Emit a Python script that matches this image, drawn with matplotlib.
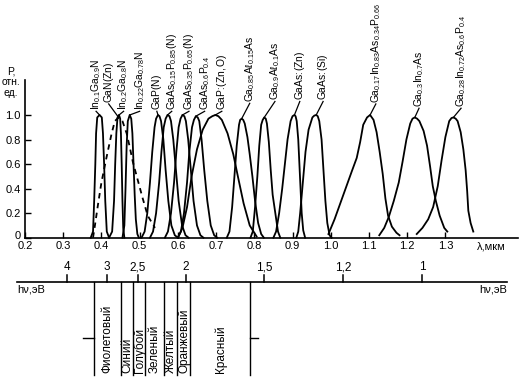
import matplotlib.pyplot as plt
from matplotlib.transforms import ScaledTranslation

plt.rcParams['font.family'] = ['Liberation Sans', 'DejaVu Sans']
plt.rcParams['mathtext.fontset'] = 'custom'
plt.rcParams['mathtext.rm'] = 'Liberation Sans'
plt.rcParams['mathtext.it'] = 'Liberation Sans:italic'
plt.rcParams['mathtext.bf'] = 'Liberation Sans:bold'

# ---- emission spectra: wavelength (um), relative power ----
wl_in01 = [0.372, 0.378, 0.381, 0.384, 0.386, 0.389, 0.395, 0.401, 0.404, 0.407, 0.410, 0.414, 0.420]
p_in01 = [0, 0.05, 0.3, 0.6, 0.85, 0.98, 1.0, 0.98, 0.85, 0.6, 0.3, 0.05, 0]

wl_ganzn = [0.378, 0.382, 0.391, 0.400, 0.413, 0.426, 0.435, 0.445, 0.455, 0.466, 0.474, 0.482, 0.495, 0.508, 0.521, 0.540]
p_ganzn = [0, 0.08, 0.27, 0.45, 0.65, 0.84, 0.95, 0.98, 0.95, 0.85, 0.74, 0.62, 0.47, 0.32, 0.18, 0.08]

wl_in02 = [0.420, 0.428, 0.433, 0.436, 0.439, 0.442, 0.446, 0.449, 0.451, 0.453, 0.455, 0.457, 0.460]
p_in02 = [0, 0.05, 0.3, 0.6, 0.85, 0.98, 1.0, 0.97, 0.85, 0.6, 0.3, 0.08, 0]

wl_in022 = [0.455, 0.460, 0.463, 0.466, 0.469, 0.474, 0.478, 0.481, 0.484, 0.487, 0.490, 0.494, 0.498]
p_in022 = [0, 0.1, 0.4, 0.75, 0.95, 1.0, 0.97, 0.85, 0.6, 0.35, 0.15, 0.03, 0]

wl_gapn = [0.505, 0.513, 0.520, 0.527, 0.533, 0.539, 0.543, 0.548, 0.552, 0.556, 0.562, 0.568, 0.575, 0.583, 0.592, 0.600]
p_gapn = [0, 0.05, 0.2, 0.45, 0.7, 0.9, 0.97, 1.0, 0.99, 0.95, 0.8, 0.55, 0.3, 0.1, 0.02, 0]

wl_as015 = [0.527, 0.535, 0.543, 0.551, 0.557, 0.563, 0.568, 0.573, 0.578, 0.582, 0.588, 0.595, 0.602, 0.611, 0.620, 0.628]
p_as015 = [0, 0.05, 0.2, 0.45, 0.7, 0.9, 0.97, 1.0, 0.99, 0.95, 0.8, 0.55, 0.3, 0.1, 0.02, 0]

wl_as035 = [0.566, 0.574, 0.582, 0.590, 0.596, 0.602, 0.607, 0.612, 0.617, 0.621, 0.627, 0.634, 0.641, 0.650, 0.659, 0.667]
p_as035 = [0, 0.05, 0.2, 0.45, 0.7, 0.9, 0.97, 1.0, 0.99, 0.95, 0.8, 0.55, 0.3, 0.1, 0.02, 0]

wl_as06 = [0.600, 0.608, 0.616, 0.624, 0.630, 0.637, 0.642, 0.647, 0.652, 0.656, 0.662, 0.669, 0.677, 0.686, 0.695, 0.703]
p_as06 = [0, 0.05, 0.2, 0.45, 0.7, 0.9, 0.96, 0.99, 0.98, 0.95, 0.8, 0.55, 0.3, 0.1, 0.02, 0]

wl_gapzno = [0.600, 0.612, 0.624, 0.636, 0.650, 0.665, 0.680, 0.690, 0.698, 0.706, 0.715, 0.730, 0.745, 0.757,
             0.772, 0.788, 0.806]
p_gapzno = [0, 0.08, 0.25, 0.5, 0.72, 0.88, 0.97, 0.99, 1.0, 0.99, 0.96, 0.85, 0.68, 0.5,
            0.28, 0.1, 0.01]

wl_al015 = [0.728, 0.735, 0.742, 0.748, 0.754, 0.760, 0.763, 0.767, 0.771, 0.775, 0.782, 0.788, 0.795, 0.802,
            0.810, 0.818, 0.825]
p_al015 = [0, 0.05, 0.25, 0.5, 0.75, 0.92, 0.96, 0.97, 0.96, 0.93, 0.82, 0.68, 0.5, 0.3,
           0.12, 0.03, 0]

wl_al01 = [0.790, 0.796, 0.802, 0.808, 0.813, 0.818, 0.822, 0.826, 0.830, 0.833, 0.838, 0.843, 0.848, 0.855,
           0.862, 0.868]
p_al01 = [0, 0.05, 0.25, 0.5, 0.75, 0.92, 0.96, 0.98, 0.97, 0.93, 0.78, 0.55, 0.35, 0.2,
          0.05, 0]

wl_gaaszn = [0.850, 0.857, 0.865, 0.873, 0.880, 0.887, 0.895, 0.900, 0.905, 0.908, 0.911, 0.915, 0.918, 0.921,
             0.924, 0.928, 0.933]
p_gaaszn = [0, 0.05, 0.2, 0.4, 0.6, 0.8, 0.95, 0.99, 1.0, 0.99, 0.95, 0.8, 0.6, 0.4,
            0.2, 0.06, 0]

wl_gaassi = [0.910, 0.915, 0.920, 0.927, 0.934, 0.942, 0.952, 0.957, 0.962, 0.966, 0.970, 0.976, 0.981, 0.986,
             0.991, 0.997, 1.002]
p_gaassi = [0, 0.05, 0.2, 0.45, 0.7, 0.88, 0.98, 0.995, 1.0, 0.99, 0.95, 0.8, 0.55, 0.3,
            0.12, 0.02, 0]

wl_gainasp66 = [0.994, 1.010, 1.025, 1.040, 1.055, 1.068, 1.077, 1.085, 1.095, 1.103, 1.112, 1.120, 1.128,
                1.136, 1.143, 1.150, 1.160, 1.172, 1.180]
p_gainasp66 = [0.03, 0.15, 0.28, 0.41, 0.54, 0.65, 0.78, 0.92, 0.98, 1.0, 0.96, 0.86, 0.7,
               0.52, 0.32, 0.18, 0.09, 0.04, 0.02]

wl_gainas = [1.127, 1.140, 1.152, 1.165, 1.178, 1.188, 1.198, 1.208, 1.214, 1.220, 1.226, 1.232, 1.243, 1.252,
             1.260, 1.267, 1.275, 1.285, 1.297, 1.305]
p_gainas = [0.02, 0.08, 0.17, 0.3, 0.45, 0.62, 0.8, 0.93, 0.97, 0.98, 0.97, 0.95, 0.87, 0.75,
            0.58, 0.42, 0.3, 0.18, 0.08, 0.05]

wl_gainasp04 = [1.225, 1.240, 1.255, 1.268, 1.280, 1.290, 1.300, 1.310, 1.316, 1.321, 1.327, 1.332, 1.340,
                1.347, 1.353, 1.357, 1.360, 1.366, 1.373]
p_gainasp04 = [0.03, 0.08, 0.15, 0.25, 0.42, 0.63, 0.82, 0.95, 0.975, 0.98, 0.97, 0.95, 0.86,
               0.72, 0.55, 0.38, 0.22, 0.12, 0.05]

labels = [
    r'$\mathrm{In_{0.1}Ga_{0.9}N}$',
    r'$\mathrm{GaN(Zn)}$',
    r'$\mathrm{In_{0.2}Ga_{0.8}N}$',
    r'$\mathrm{In_{0.22}Ga_{0.78}N}$',
    r'$\mathrm{GaP(N)}$',
    r'$\mathrm{GaAs_{0.15}P_{0.85}(N)}$',
    r'$\mathrm{GaAs_{0.35}P_{0.65}(N)}$',
    r'$\mathrm{GaAs_{0.6}P_{0.4}}$',
    r'$\mathrm{GaP\!:\!(Zn,O)}$',
    r'$\mathrm{Ga_{0.85}Aℓ_{0.15}As}$',
    r'$\mathrm{Ga_{0.9}Aℓ_{0.1}As}$',
    r'$\mathrm{GaAs\!:\!(Zn)}$',
    r'$\mathrm{GaAs\!:\!(Si)}$',
    r'$\mathrm{Ga_{0.17}In_{0.83}As_{0.34}P_{0.66}}$',
    r'$\mathrm{Ga_{0.3}In_{0.7}As}$',
    r'$\mathrm{Ga_{0.28}In_{0.72}As_{0.6}P_{0.4}}$',
]

# photon energy scale (eV) and colour ranges (um)
energies = [4, 3, 2.5, 2, 1.5, 1.2, 1]
energy_labels = ['4', '3', '2,5', '2', '1,5', '1,2', '1']
colour_bounds = [0.38, 0.452, 0.483, 0.515, 0.565, 0.598, 0.633, 0.79]
colour_names = ['Фиолетовый', 'Синий', 'Голубой', 'Зеленый', 'Желтый', 'Оранжевый', 'Красный']

x_ticks = [0.2, 0.3, 0.4, 0.5, 0.6, 0.7, 0.8, 0.9, 1.0, 1.1, 1.2, 1.3]
y_ticks = [0, 0.2, 0.4, 0.6, 0.8, 1.0]

spectra = [
    (wl_in01, p_in01), (wl_ganzn, p_ganzn), (wl_in02, p_in02), (wl_in022, p_in022),
    (wl_gapn, p_gapn), (wl_as015, p_as015), (wl_as035, p_as035), (wl_as06, p_as06),
    (wl_gapzno, p_gapzno), (wl_al015, p_al015), (wl_al01, p_al01), (wl_gaaszn, p_gaaszn),
    (wl_gaassi, p_gaassi), (wl_gainasp66, p_gainasp66), (wl_gainas, p_gainas), (wl_gainasp04, p_gainasp04),
]

# label placement (layout only)
label_x = [0.386, 0.419, 0.458, 0.500, 0.545, 0.584, 0.629, 0.670, 0.715, 0.788,
           0.854, 0.919, 0.980, 1.118, 1.231, 1.341]
label_base = [1.04, 1.10, 1.04, 1.04, 1.04, 1.04, 1.04, 1.04, 1.04, 1.105,
              1.12, 1.12, 1.12, 1.10, 1.065, 1.065]

W, H = 528, 388
fig = plt.figure(figsize=(W / 100, H / 100), dpi=100)
left, right = 25 / W, 518 / W
ax = fig.add_axes([left, (H - 237.7) / H, right - left, 157.7 / H])

for i, (wl, p) in enumerate(spectra):
    if i == 1:
        ax.plot(wl, p, color='black', lw=1.3, ls='--', dashes=(3, 2.5), clip_on=False)
    else:
        ax.plot(wl, p, color='black', lw=1.3, solid_joinstyle='round', clip_on=False)
    k = p.index(max(p))
    ax.plot([label_x[i], wl[k]], [label_base[i] - 0.01, p[k]], color='black', lw=0.9, clip_on=False)
    ax.text(label_x[i], label_base[i], labels[i], rotation=90, ha='center', va='bottom', fontsize=7.4)

ax.set_xlim(0.2, 1.49)
ax.set_ylim(0, 1.285)
ax.set_xticks(x_ticks)
ax.set_xticklabels([f'{v:.1f}' for v in x_ticks])
ax.set_yticks(y_ticks)
ax.set_yticklabels(['0'] + [f'{v:.1f}' for v in y_ticks[1:]])
ax.tick_params(direction='in', length=4, width=1, labelsize=8, pad=3)
ax.tick_params(axis='x', pad=2.5)
# lift the "0" a little so it clears the "0.2" below it
zero = ax.get_yticklabels()[0]
zero.set_transform(zero.get_transform() + ScaledTranslation(0, 2 / 72, fig.dpi_scale_trans))
for s in ['top', 'right']:
    ax.spines[s].set_visible(False)
for s in ['left', 'bottom']:
    ax.spines[s].set_linewidth(1.2)
ax.patch.set_alpha(0)
ax.text(1.42, -0.025, 'λ,мкм', transform=ax.get_xaxis_transform(), ha='center', va='top', fontsize=8)

fig.text(11 / W, (H - 66) / H, 'P,\nотн.\nед.', ha='center', va='top', fontsize=7.5,
         linespacing=1.15, multialignment='center')

# photon energy axis and colour ranges, drawn in pixel rows
ax2 = fig.add_axes([left, 0, right - left, 1], zorder=-1)
ax2.set_xlim(0.2, 1.49)
ax2.set_ylim(H, 0)
ax2.axis('off')
ax2.plot([0.18, 1.461], [282, 282], color='black', lw=1.2, clip_on=False)
for e, lab in zip(energies, energy_labels):
    lam = 1.24 / e
    ax2.plot([lam, lam], [282, 275], color='black', lw=1.1)
    ax2.text(lam, 273, lab, ha='center', va='bottom', fontsize=8.5)
ax2.text(0.18, 285, 'hν,эВ', ha='left', va='top', fontsize=8)
ax2.text(1.461, 285, 'hν,эВ', ha='right', va='top', fontsize=8)

for b in colour_bounds:
    ax2.plot([b, b], [282, 375], color='black', lw=1.0)
ax2.plot([colour_bounds[0] - 0.028, colour_bounds[0]], [338, 338], color='black', lw=1.0)
ax2.plot([colour_bounds[-1], colour_bounds[-1] + 0.02], [338, 338], color='black', lw=1.0)
for j, name in enumerate(colour_names):
    xc = (colour_bounds[j] + colour_bounds[j + 1]) / 2
    ax2.text(xc, 373, name, rotation=90, ha='center', va='bottom', fontsize=8.5)

fig.savefig('out.png', dpi=100, facecolor='white')
